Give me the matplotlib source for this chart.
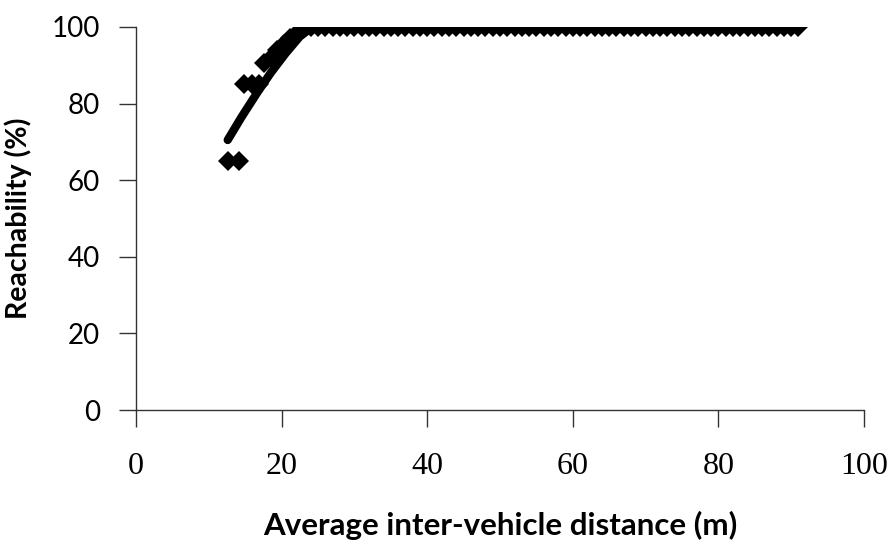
import matplotlib
matplotlib.use('Agg')
import matplotlib.pyplot as plt

# Marker series (measured reachability)
dist_pts = [12.7, 14.2, 14.8, 15.9, 16.9, 17.6, 18.5, 19.4, 20.3, 21.2, 22.1, 23.0, 24.0,
            25, 26, 27, 28, 29, 30, 31, 32, 33, 34, 35, 36, 37, 38, 39, 40,
            41, 42, 43, 44, 45, 46, 47, 48, 49, 50, 51, 52, 53, 54, 55, 56, 57, 58,
            59, 60, 61, 62, 63, 64, 65, 66, 67, 68, 69, 70, 71, 72, 73, 74, 75, 76,
            77, 78, 79, 80, 81, 82, 83, 84, 85, 86, 87, 88, 89, 90, 91]
reach_pts = [65, 65, 85, 85, 85, 90.5, 92, 94, 95.5, 97, 98.5, 99.5, 100,
             100, 100, 100, 100, 100, 100, 100, 100, 100, 100, 100, 100, 100, 100, 100, 100,
             100, 100, 100, 100, 100, 100, 100, 100, 100, 100, 100, 100, 100, 100, 100, 100, 100, 100,
             100, 100, 100, 100, 100, 100, 100, 100, 100, 100, 100, 100, 100, 100, 100, 100, 100, 100,
             100, 100, 100, 100, 100, 100, 100, 100, 100, 100, 100, 100, 100, 100, 100]

# Line series (model curve)
dist_line = [12.6, 14.5, 16.7, 18.5, 20.5, 22.5, 24.2, 91]
reach_line = [70.5, 76.5, 83, 88, 93, 97.5, 100, 100]

x_ticks = [0, 20, 40, 60, 80, 100]
y_ticks = [0, 20, 40, 60, 80, 100]

fig = plt.figure(figsize=(8.93, 5.42), dpi=100)
ax = fig.add_axes([0.1523, 0.2435, 0.8152, 0.7067])

ax.plot(dist_line, reach_line, color='black', lw=6, solid_capstyle='round', zorder=2)
ax.plot(dist_pts, reach_pts, linestyle='none', marker='D', ms=10.5, color='black',
        markeredgewidth=0, zorder=3)

ax.set_xlim(0, 100)
ax.set_ylim(0, 100)
ax.set_xticks(x_ticks)
ax.set_yticks(y_ticks)

for side in ['top', 'right']:
    ax.spines[side].set_visible(False)
for side in ['left', 'bottom']:
    ax.spines[side].set_color('#333333')
    ax.spines[side].set_linewidth(1.0)

ax.tick_params(axis='y', direction='out', length=12, width=1, color='#333333',
               pad=14, labelsize=20)
ax.tick_params(axis='x', direction='out', length=12, width=1, color='#333333',
               pad=18, labelsize=23)
for lab in ax.get_yticklabels():
    lab.set_family('Lato')
for lab in ax.get_xticklabels():
    lab.set_family('Liberation Serif')

ax.set_xlabel('Average inter-vehicle distance (m)', fontsize=22.5, fontweight='bold',
              family='Lato', labelpad=22)
ax.set_ylabel('Reachability (%)', fontsize=20.5, fontweight='bold', family='Lato',
              labelpad=14)

fig.savefig('out.png', dpi=100, facecolor='white')
